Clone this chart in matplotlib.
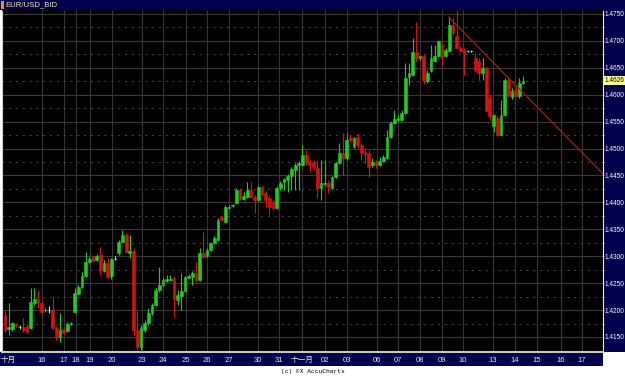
"""EUR/USD 4-hour candles, Oct-Nov, drawn in the style of an old FX charting
terminal: black plot, navy frame, right-hand price scale, falling trend line."""

import numpy as np
import matplotlib

matplotlib.use("Agg")
import matplotlib.pyplot as plt
from matplotlib.patches import Rectangle

plt.rcParams["font.family"] = ["Liberation Sans", "Noto Sans CJK SC"]

# ---- Data: prices as pips above 1.4000 -----------------------------------
OPEN = [191, 164, 164, 174, 168, 168, 170, 166, 213, 220, 213, 200, 200, 200, 166,
        150, 164, 161, 174, 196, 230, 243, 263, 289, 298, 293, 302, 272, 287, 263,
        295, 306, 326, 339, 306, 310, 163, 131, 163, 176, 194, 209, 237, 246, 254,
        256, 259, 218, 226, 235, 259, 261, 269, 256, 306, 300, 311, 324, 330, 373,
        363, 389, 393, 399, 423, 406, 410, 423, 410, 404, 428, 417, 408, 401, 389,
        427, 438, 441, 449, 460, 469, 469, 488, 475, 475, 464, 427, 434, 436, 427,
        447, 473, 492, 482, 520, 503, 521, 507, 493, 492, 469, 475, 469, 477, 482,
        521, 547, 553, 553, 566, 633, 637, 679, 668, 672, 625, 644, 663, 672, 692,
        672, 681, 730, 709, 687, 683, 681, 681, 668, 663, 640, 650, 594, 542, 557,
        525, 562, 627, 596, 609, 598, 622]
HIGH = [200, 213, 178, 176, 172, 185, 174, 241, 241, 237, 216, 204, 207, 224, 170,
        194, 168, 178, 178, 241, 246, 270, 308, 298, 302, 304, 317, 293, 296, 296,
        300, 330, 349, 343, 339, 315, 200, 172, 181, 204, 213, 241, 280, 259, 265,
        265, 263, 237, 269, 263, 267, 272, 289, 315, 345, 315, 326, 337, 371, 376,
        395, 395, 397, 427, 427, 419, 438, 438, 414, 430, 432, 421, 412, 404, 430,
        440, 445, 453, 466, 473, 477, 507, 497, 479, 479, 479, 479, 479, 441, 449,
        475, 510, 529, 529, 525, 521, 529, 510, 501, 497, 482, 479, 484, 488, 534,
        551, 572, 562, 572, 659, 659, 705, 735, 674, 676, 646, 692, 692, 702, 698,
        687, 744, 743, 757, 691, 687, 683, 683, 679, 668, 668, 653, 599, 564, 561,
        590, 631, 631, 612, 618, 631, 635]
LOW = [159, 153, 161, 168, 164, 159, 157, 164, 209, 204, 194, 196, 194, 164, 144,
       140, 155, 159, 172, 194, 228, 241, 261, 287, 289, 291, 265, 270, 259, 257,
       293, 302, 324, 306, 296, 153, 125, 122, 159, 172, 191, 207, 233, 244, 252,
       254, 187, 209, 200, 233, 257, 246, 252, 254, 296, 298, 310, 323, 328, 365,
       362, 388, 391, 397, 404, 404, 408, 408, 380, 402, 412, 391, 376, 386, 388,
       423, 423, 419, 423, 423, 423, 467, 469, 456, 460, 408, 404, 430, 417, 425,
       445, 471, 451, 479, 512, 501, 501, 479, 473, 447, 466, 464, 467, 475, 480,
       520, 546, 551, 551, 564, 618, 635, 661, 664, 620, 622, 642, 661, 670, 655,
       670, 679, 709, 685, 679, 637, 679, 679, 642, 627, 627, 568, 553, 531, 523,
       523, 561, 596, 592, 596, 594, 620]
CLOSE = [163, 168, 176, 170, 168, 163, 159, 215, 220, 213, 196, 201, 200, 166, 150,
         163, 157, 174, 176, 231, 243, 263, 289, 295, 291, 300, 274, 287, 261, 295,
         295, 326, 339, 308, 310, 163, 131, 166, 176, 194, 209, 237, 246, 256, 257,
         257, 220, 228, 235, 261, 263, 269, 256, 306, 298, 311, 324, 334, 367, 367,
         391, 391, 395, 423, 406, 412, 423, 410, 404, 428, 415, 404, 391, 389, 427,
         436, 443, 449, 462, 469, 473, 488, 473, 469, 466, 427, 436, 436, 428, 447,
         473, 492, 482, 516, 516, 520, 507, 492, 490, 466, 475, 469, 477, 484, 521,
         547, 555, 557, 566, 631, 640, 679, 668, 672, 627, 640, 668, 672, 700, 668,
         683, 730, 715, 687, 681, 678, 681, 681, 646, 640, 650, 570, 561, 562, 525,
         562, 627, 598, 607, 598, 622, 626]

# day labels on the time axis and the bar position where each day starts
DAY_LABELS = ["十月", "16", "17", "18", "19", "20", "23", "24", "25", "26", "27",
              "30", "31", "十一月", "02", "03", "06", "07", "08", "09", "10",
              "13", "14", "15", "16", "17"]
DAY_POS = [0.8, 10.1, 16.1, 19.3, 23.1, 29.1, 37.3, 43.0, 49.3, 55.0, 61.0,
           68.9, 74.6, 80.8, 87.1, 93.1, 101.3, 107.0, 113.0, 119.0, 124.7,
           132.8, 138.8, 144.8, 151.3, 157.0]

# hand-drawn resistance line: (bar, price) anchors
TREND_BAR = [120.8, 162.8]
TREND_PRICE = [1.4744, 1.4453]

BASE = 1.4
o = BASE + np.array(OPEN) / 1e4
h = BASE + np.array(HIGH) / 1e4
l = BASE + np.array(LOW) / 1e4
c = BASE + np.array(CLOSE) / 1e4
bars = np.arange(len(o))

# ---- Frame ----------------------------------------------------------------
W, H = 625, 377
NAVY = "#00004c"
fig = plt.figure(figsize=(W / 100, H / 100), dpi=100, facecolor="white")


def frac(x0, y0, x1, y1):
    return [x0 / W, 1 - y1 / H, (x1 - x0) / W, (y1 - y0) / H]


for x0, y0, x1, y1 in [(0, 0, 625, 10), (603, 10, 625, 352), (0, 352, 603, 366)]:
    r = frac(x0, y0, x1, y1)
    fig.add_artist(Rectangle((r[0], r[1]), r[2], r[3], transform=fig.transFigure,
                             fc=NAVY, ec="none", zorder=0))
fig.add_artist(Rectangle((1 / W, 1 - 9 / H), 3 / W, 8 / H, transform=fig.transFigure,
                         fc="#f09020", ec="none", zorder=1))
fig.text(5 / W, 1 - 5 / H, "EUR/USD_BID", ha="left", va="center",
         color="#f0e8a8", fontsize=5.6)
fig.text(313 / W, 1 - 371 / H, "(c) FX AccuCharts", ha="center", va="center",
         color="black", fontsize=4.5, family="Liberation Mono")

ax = fig.add_axes(frac(2, 10, 603, 352), facecolor="black")
ax.set_xlim(-0.8, 162.8)
ax.set_ylim(1.41221, 1.47574)
ax.set_axisbelow(True)

# ---- Grid -----------------------------------------------------------------
major = np.arange(1.415, 1.4751, 0.005)
minor = major[:-1] + 0.0025
ax.set_yticks(major)
ax.set_yticklabels([f"{v:.4f}" for v in major])
ax.set_yticks(minor, minor=True)
ax.grid(axis="y", which="major", color="#3a3a3a", lw=0.8)
ax.grid(axis="y", which="minor", color="#4c4c4c", lw=0.7, linestyle=(0, (2, 5)))
for p in DAY_POS[1:]:
    ax.axvline(p, color="#363636", lw=0.8, zorder=0.5)

# ---- Candles --------------------------------------------------------------
colors = np.where(c > o, "#22cc22", np.where(c < o, "#d41414", "#8cf4f4"))
ax.vlines(bars, l, h, colors=colors, lw=0.8, zorder=3)
ax.bar(bars, np.abs(c - o), bottom=np.minimum(o, c), width=0.74,
       color=colors, edgecolor=colors, lw=0.4, zorder=4)

ax.plot(TREND_BAR, TREND_PRICE, color="#a41c1c", lw=0.9, zorder=5)

# ---- Axes styling ---------------------------------------------------------
ax.yaxis.tick_right()
ax.tick_params(axis="y", which="major", length=1.0, width=0.6, color="#f0e8c0",
               labelcolor="white", labelsize=4.7, pad=0.3)
ax.tick_params(axis="y", which="minor", length=0.8, width=0.6, color="#f0e8c0")
ax.set_xticks(DAY_POS)
ax.set_xticklabels(DAY_LABELS)
ax.tick_params(axis="x", length=0, pad=3.5, labelcolor="#e8e8e8", labelsize=5.5)

ax.spines["top"].set_visible(False)
ax.spines["right"].set_color("#f0e8c0")
ax.spines["right"].set_linestyle((0, (1, 1)))
ax.spines["left"].set_color("#d0d0d0")
ax.spines["left"].set_linestyle((0, (1, 1)))
ax.spines["bottom"].set_color("#c8c8c8")
ax.spines["bottom"].set_linewidth(1.5)

ax.annotate(f"{c[-1]:.4f}", xy=(1, c[-1]), xycoords=("axes fraction", "data"),
            xytext=(1.3, 0), textcoords="offset points", ha="left", va="center",
            fontsize=4.7, color="black",
            bbox=dict(boxstyle="square,pad=0.12", fc="#ffff90", ec="none"))

fig.savefig("out.png", dpi=100, facecolor="white")
